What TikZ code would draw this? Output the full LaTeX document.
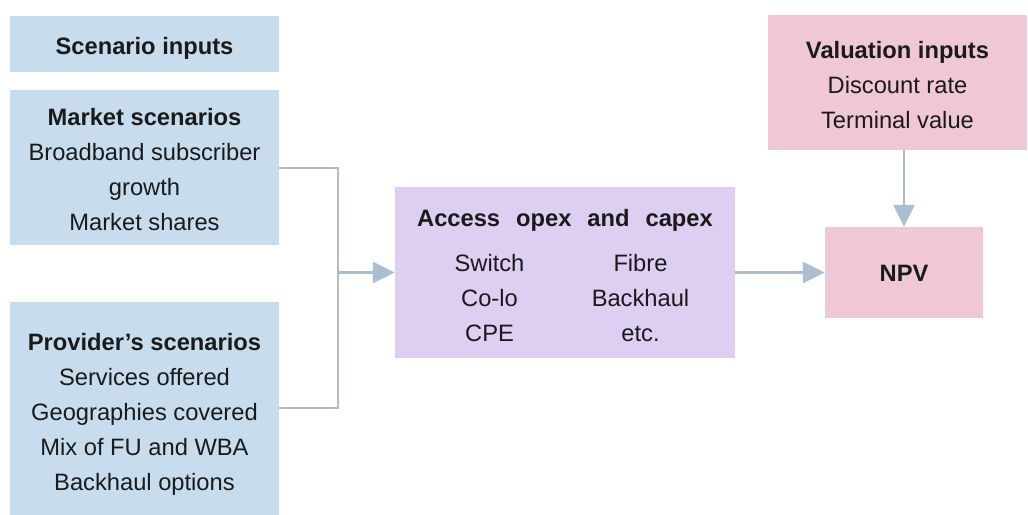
\documentclass[tikz,border=0pt]{standalone}
\usepackage{fontspec}
\setmainfont{Liberation Sans}
\usetikzlibrary{arrows.meta,calc}
\definecolor{boxblue}{HTML}{C7DDEE}
\definecolor{boxpurple}{HTML}{DDCEF2}
\definecolor{boxpink}{HTML}{EFC7D5}
\definecolor{arrowc}{HTML}{A9BFCF}
\definecolor{linec}{HTML}{B3BBC3}
\definecolor{textc}{HTML}{1A1A1A}
\begin{document}
\begin{tikzpicture}[x=1pt,y=-1pt,
  box/.style={inner sep=0pt},
  bluebox/.style={box, fill=boxblue},
  purplebox/.style={box, fill=boxpurple},
  pinkbox/.style={box, fill=boxpink},
  txt/.style={inner sep=0pt, align=center, text=textc,
    font=\fontsize{23.7}{35}\selectfont},
  conn/.style={draw=linec, line width=2pt},
  flow/.style={draw=arrowc, line width=2.5pt, -{Triangle[length=22pt,width=21pt]}}
]
\useasboundingbox[fill=white] (0,0) rectangle (1028,514);

\node[bluebox, minimum width=269pt, minimum height=56pt] (scen) at (144.5,44) {};
\node[txt] (scent) at ($(scen)+(0,4)$) {\textbf{Scenario inputs}};
\node[bluebox, minimum width=269pt, minimum height=155pt] (market) at (144.5,167.5) {};
\node[txt] (markett) at ($(market)+(0,2)$)
  {\textbf{Market scenarios}\\Broadband subscriber\\growth\\Market shares};
\node[bluebox, minimum width=269pt, minimum height=213pt] (prov) at (144.5,408) {};
\node[txt] (provt) at ($(prov)+(0,6)$)
  {\textbf{Provider’s scenarios}\\Services offered\\Geographies covered\\Mix of FU and WBA\\Backhaul options};

\node[purplebox, minimum width=340pt, minimum height=171pt] (access) at (565,272.5) {};
\node[txt] (accesst) at ($(access)+(0,3)$)
  {\textbf{Access\hspace{16pt}opex\hspace{16pt}and\hspace{16pt}capex}\\[10pt]
   \makebox[151pt]{Switch}\makebox[151pt]{Fibre}\\
   \makebox[151pt]{Co-lo}\makebox[151pt]{Backhaul}\\
   \makebox[151pt]{CPE}\makebox[151pt]{etc.}};

\node[pinkbox, minimum width=259pt, minimum height=135pt] (val) at (897.5,82.5) {};
\node[txt] (valt) at ($(val)+(0,3)$) {\textbf{Valuation inputs}\\Discount rate\\Terminal value};
\node[pinkbox, minimum width=158pt, minimum height=91pt] (npv) at (904,272.5) {};
\node[txt] (npvt) at ($(npv)+(0,1)$) {\textbf{NPV}};

\coordinate (j) at (338,272.5);
\draw[conn] (market.east) -- (market.east -| j) -- (prov.east -| j) -- (prov.east);
\draw[flow] (j) -- (access.west);
\draw[flow] (access.east) -- (npv.west);
\draw[flow] (val.south -| npv.north) -- (npv.north);
\end{tikzpicture}
\end{document}
